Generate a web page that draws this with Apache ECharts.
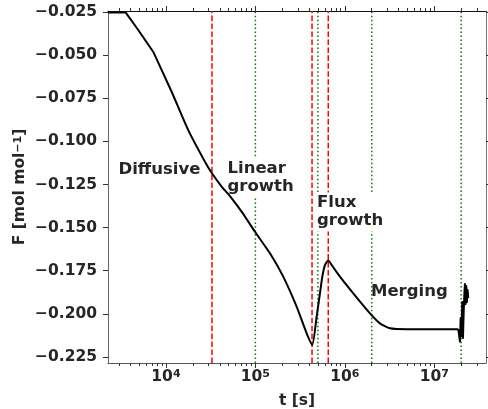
<!DOCTYPE html>
<html><head><meta charset="utf-8">
<script src="https://cdn.jsdelivr.net/npm/echarts@6/dist/echarts.min.js"></script>
<style>html,body{margin:0;padding:0;background:#fff}#c{width:488px;height:409px}</style>
</head><body><div id="c"></div>
<script>
// ---- data ----
const tValues = [2250, 3540, 4900, 7200, 11580, 17760, 27300, 32690, 41960, 51950, 70800, 99000,
  145500, 204900, 289300, 374400, 432400, 484300, 527200, 562300, 599700, 652800, 723700, 882300,
  1243000, 1910000, 2471000, 3196000, 4914000, 18560000, 19390000, 19740000, 20150000, 20570000,
  20940000, 21330000, 21770000, 22050000, 22400000, 22800000, 23210000, 23570000, 24000000];
const fValues = [-0.0252, -0.0252, -0.0354, -0.0480, -0.0712, -0.0935, -0.1118, -0.1185, -0.1262, -0.1317, -0.1410, -0.1524,
  -0.1649, -0.1784, -0.1958, -0.2113, -0.2180, -0.2016, -0.1881, -0.1780, -0.1717, -0.1691, -0.1722, -0.1784,
  -0.1881, -0.1997, -0.2055, -0.2084, -0.2089, -0.2089, -0.2161, -0.2024, -0.2128, -0.1931,
  -0.2140, -0.1989, -0.1873, -0.1827, -0.1943, -0.1839, -0.1931, -0.1862, -0.1908];
const redLines = [32700, 430000, 653000];
const greenLines = [100000, 500000, 2000000, 20000000];
const yTicks = [-0.225, -0.2, -0.175, -0.15, -0.125, -0.1, -0.075, -0.05, -0.025];
const xTicks = [1e4, 1e5, 1e6, 1e7];
const xMinorTicks = [3e3, 4e3, 5e3, 6e3, 7e3, 8e3, 9e3, 2e4, 3e4, 4e4, 5e4, 6e4, 7e4, 8e4, 9e4,
  2e5, 3e5, 4e5, 5e5, 6e5, 7e5, 8e5, 9e5, 2e6, 3e6, 4e6, 5e6, 6e6, 7e6, 8e6, 9e6, 2e7, 3e7];
const phaseLabels = ['Diffusive', 'Linear\ngrowth', 'Flux\ngrowth', 'Merging'];
const xName = 't [s]';
const yNameParts = ['F [mol mol', '\u22121', ']'];
const KINK = 3;         // index of the early kink (drawn sharp)
const NOISE_START = 29; // index where the noisy tail begins

// ---- layout / style ----
const X_MIN = 2250, X_MAX = 3.79e7;
const Y_MIN = -0.2285, Y_MAX = -0.0244;
const FONT = 'DejaVu Sans';
const TXT = '#262626';
const FS = 15.5;

const chart = echarts.init(document.getElementById('c'), null, {renderer: 'canvas'});

const richLab = {
  b: {fontFamily: FONT, fontWeight: 'bold', fontSize: FS, lineHeight: FS, color: TXT, verticalAlign: 'bottom', padding: [3, 0, 0, 0]},
  s: {fontFamily: FONT, fontWeight: 'bold', fontSize: 11, lineHeight: 11, color: TXT, verticalAlign: 'top'}
};

function decoX(position, values, len, showLine, lineColor, withLabels) {
  const ax = {
    type: 'value', position: position, gridIndex: 0,
    min: Math.log10(X_MIN), max: Math.log10(X_MAX),
    axisLine: {show: showLine, onZero: false, lineStyle: {color: lineColor, width: 1}},
    axisTick: {show: true, inside: false, length: len, customValues: values.map(Math.log10), lineStyle: {color: '#333', width: 1}},
    axisLabel: {show: false},
    splitLine: {show: false},
    axisPointer: {show: false}
  };
  if (withLabels) {
    ax.axisLabel = {
      show: true, customValues: values.map(Math.log10), margin: 6,
      formatter: v => '{b|10}{s|' + Math.round(v) + '}',
      rich: richLab
    };
    ax.name = xName;
    ax.nameLocation = 'middle';
    ax.nameGap = 30;
    ax.nameMoveOverlap = false;
    ax.nameTextStyle = {fontFamily: FONT, fontWeight: 'bold', fontSize: FS, color: TXT};
  }
  return ax;
}

function yAx(position, withLabels, lineColor) {
  const ax = {
    type: 'value', position: position, gridIndex: 0, min: Y_MIN, max: Y_MAX,
    axisLine: {show: true, onZero: false, lineStyle: {color: lineColor, width: 1}},
    axisTick: {show: true, inside: false, length: 5, customValues: yTicks, lineStyle: {color: '#333', width: 1}},
    axisLabel: {show: false},
    splitLine: {show: false}
  };
  if (withLabels) {
    ax.axisLabel = {
      show: true, customValues: yTicks, margin: 11,
      fontFamily: FONT, fontWeight: 'bold', fontSize: FS, color: TXT,
      formatter: v => (v < 0 ? '\u2212' : '') + Math.abs(v).toFixed(3)
    };
    ax.name = '{b|' + yNameParts[0] + '}{s|' + yNameParts[1] + '}{b|' + yNameParts[2] + '}';
    ax.nameLocation = 'middle';
    ax.nameRotate = 90;
    ax.nameGap = 80;
    ax.nameMoveOverlap = false;
    ax.nameTextStyle = {rich: richLab};
  }
  return ax;
}

const series = [];
redLines.forEach(t => series.push({
  type: 'line', xAxisIndex: 0, yAxisIndex: 0, z: 2, silent: true, symbol: 'none',
  data: [[t, Y_MIN], [t, Y_MAX]],
  lineStyle: {color: '#ff0000', width: 1.5, type: [5.55, 2.4]}
}));
greenLines.forEach(t => series.push({
  type: 'line', xAxisIndex: 0, yAxisIndex: 0, z: 2, silent: true, symbol: 'none',
  data: [[t, Y_MIN], [t, Y_MAX]],
  lineStyle: {color: '#008000', width: 1.5, type: [1.5, 2.475]}
}));
const pts = tValues.map((t, i) => [t, fValues[i]]);
const curveStyle = {color: '#000', width: 2, join: 'round'};
series.push({
  type: 'line', xAxisIndex: 0, yAxisIndex: 0, z: 100, silent: true, symbol: 'none',
  data: pts.slice(0, KINK + 1), lineStyle: curveStyle
});
series.push({
  type: 'line', xAxisIndex: 0, yAxisIndex: 0, z: 100, silent: true, symbol: 'none',
  data: pts.slice(KINK, NOISE_START + 1), smooth: 0.2, lineStyle: curveStyle
});
series.push({
  type: 'line', xAxisIndex: 0, yAxisIndex: 0, z: 100, silent: true, symbol: 'none',
  data: pts.slice(NOISE_START), lineStyle: curveStyle
});

const labFont = 'bold 16.5px "' + FONT + '"';
chart.setOption({
  animation: false,
  grid: {left: 108, right: 2, top: 11, bottom: 46, containLabel: false, outerBoundsMode: 'none'},
  xAxis: [
    {type: 'log', logBase: 10, min: X_MIN, max: X_MAX, show: false, gridIndex: 0, position: 'bottom'},
    decoX('bottom', xTicks, 5, true, '#555', true),
    decoX('bottom', xMinorTicks, 3, false, '#555', false),
    decoX('top', xTicks, 5, true, '#111', false),
    decoX('top', xMinorTicks, 3, false, '#111', false)
  ],
  yAxis: [yAx('left', true, '#666'), yAx('right', false, '#777')],
  series: series,
  graphic: [
    {type: 'text', x: 118.5, y: 161, z: 50, silent: true,
     style: {text: phaseLabels[0], font: labFont, fill: TXT}},
    {type: 'text', x: 225.5, y: 158, z: 50, silent: true,
     style: {text: phaseLabels[1], font: labFont, fill: TXT, lineHeight: 18, backgroundColor: '#fff', padding: [2, 3, 2, 2]}},
    {type: 'text', x: 316, y: 192.5, z: 50, silent: true,
     style: {text: phaseLabels[2], font: labFont, fill: TXT, lineHeight: 18, backgroundColor: '#fff', padding: [1, 3, 2, 1]}},
    {type: 'text', x: 371, y: 283, z: 50, silent: true,
     style: {text: phaseLabels[3], font: labFont, fill: TXT}}
  ]
});
</script></body></html>
